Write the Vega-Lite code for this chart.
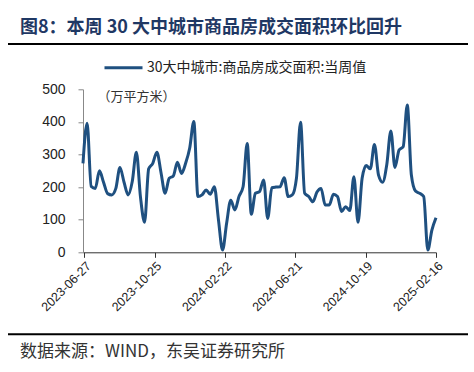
{
  "$schema": "https://vega.github.io/schema/vega-lite/v6.json",
  "padding": {"left": 8, "top": 19, "right": 2, "bottom": 4},
  "bounds": "flush",
  "spacing": 44.3,
  "resolve": {"scale": {"color": "independent"}, "legend": {"color": "independent"}},
  "config": {"view": {"stroke": null}, "font": "Liberation Sans", "axis": {"labelOverlap": false}},
  "vconcat": [
    {
      "width": 460,
      "height": 2,
      "title": {"text": "图8：本周 30 大中城市商品房成交面积环比回升", "anchor": "start", "frame": "group", "dx": 12, "offset": 6, "fontSize": 18, "font": "Noto Sans CJK SC", "fontWeight": "bold", "color": "#1f3864"},
      "data": {"values": [{"x0": 0, "x1": 1, "y0": 0, "y1": 1}]},
      "mark": {"type": "rect", "color": "#000000"},
      "encoding": {
        "x": {"field": "x0", "type": "quantitative", "scale": {"domain": [0, 1], "range": [0, 460]}, "axis": null},
        "x2": {"field": "x1"},
        "y": {"field": "y0", "type": "quantitative", "scale": {"domain": [0, 1], "range": [2, 0]}, "axis": null},
        "y2": {"field": "y1"}
      }
    },
    {
      "width": 460,
      "height": 163,
      "data": {"values": [
        {"date": "2023-06-25", "value": 273},
        {"date": "2023-07-02", "value": 396},
        {"date": "2023-07-09", "value": 202},
        {"date": "2023-07-16", "value": 196},
        {"date": "2023-07-23", "value": 250},
        {"date": "2023-07-30", "value": 215},
        {"date": "2023-08-06", "value": 180},
        {"date": "2023-08-13", "value": 176},
        {"date": "2023-08-20", "value": 196},
        {"date": "2023-08-27", "value": 260},
        {"date": "2023-09-03", "value": 215},
        {"date": "2023-09-10", "value": 176},
        {"date": "2023-09-17", "value": 217},
        {"date": "2023-09-24", "value": 307},
        {"date": "2023-10-01", "value": 170},
        {"date": "2023-10-08", "value": 92},
        {"date": "2023-10-15", "value": 256},
        {"date": "2023-10-22", "value": 273},
        {"date": "2023-10-29", "value": 307},
        {"date": "2023-11-05", "value": 245},
        {"date": "2023-11-12", "value": 181},
        {"date": "2023-11-19", "value": 227},
        {"date": "2023-11-26", "value": 234},
        {"date": "2023-12-03", "value": 276},
        {"date": "2023-12-10", "value": 242},
        {"date": "2023-12-17", "value": 273},
        {"date": "2023-12-24", "value": 320},
        {"date": "2023-12-31", "value": 401},
        {"date": "2024-01-07", "value": 171},
        {"date": "2024-01-14", "value": 176},
        {"date": "2024-01-21", "value": 191},
        {"date": "2024-01-28", "value": 178},
        {"date": "2024-02-04", "value": 201},
        {"date": "2024-02-11", "value": 100},
        {"date": "2024-02-18", "value": 7},
        {"date": "2024-02-25", "value": 90},
        {"date": "2024-03-03", "value": 160},
        {"date": "2024-03-10", "value": 130},
        {"date": "2024-03-17", "value": 171},
        {"date": "2024-03-24", "value": 201},
        {"date": "2024-03-31", "value": 334},
        {"date": "2024-04-07", "value": 117},
        {"date": "2024-04-14", "value": 181},
        {"date": "2024-04-21", "value": 186},
        {"date": "2024-04-28", "value": 222},
        {"date": "2024-05-05", "value": 104},
        {"date": "2024-05-12", "value": 198},
        {"date": "2024-05-19", "value": 200},
        {"date": "2024-05-26", "value": 201},
        {"date": "2024-06-02", "value": 229},
        {"date": "2024-06-09", "value": 171},
        {"date": "2024-06-16", "value": 176},
        {"date": "2024-06-23", "value": 227},
        {"date": "2024-06-30", "value": 399},
        {"date": "2024-07-07", "value": 181},
        {"date": "2024-07-14", "value": 171},
        {"date": "2024-07-21", "value": 155},
        {"date": "2024-07-28", "value": 185},
        {"date": "2024-08-04", "value": 196},
        {"date": "2024-08-11", "value": 145},
        {"date": "2024-08-18", "value": 145},
        {"date": "2024-08-25", "value": 178},
        {"date": "2024-09-01", "value": 171},
        {"date": "2024-09-08", "value": 125},
        {"date": "2024-09-15", "value": 140},
        {"date": "2024-09-22", "value": 128},
        {"date": "2024-09-29", "value": 232},
        {"date": "2024-10-06", "value": 92},
        {"date": "2024-10-13", "value": 227},
        {"date": "2024-10-20", "value": 266},
        {"date": "2024-10-27", "value": 256},
        {"date": "2024-11-03", "value": 331},
        {"date": "2024-11-10", "value": 237},
        {"date": "2024-11-17", "value": 215},
        {"date": "2024-11-24", "value": 268},
        {"date": "2024-12-01", "value": 372},
        {"date": "2024-12-08", "value": 260},
        {"date": "2024-12-15", "value": 314},
        {"date": "2024-12-22", "value": 324},
        {"date": "2024-12-29", "value": 452},
        {"date": "2025-01-05", "value": 237},
        {"date": "2025-01-12", "value": 188},
        {"date": "2025-01-19", "value": 181},
        {"date": "2025-01-26", "value": 171},
        {"date": "2025-02-02", "value": 7},
        {"date": "2025-02-09", "value": 68},
        {"date": "2025-02-16", "value": 106}
      ]},
      "mark": {"type": "line", "interpolate": "monotone", "strokeWidth": 3},
      "encoding": {
        "x": {
          "field": "date", "type": "temporal",
          "scale": {"type": "utc", "range": [75, 428], "domain": [{"year": 2023, "month": 6, "date": 25, "utc": true}, {"year": 2025, "month": 2, "date": 16, "utc": true}]},
          "axis": {
            "title": null, "grid": false,
            "values": [
              {"year": 2023, "month": 6, "date": 27, "utc": true},
              {"year": 2023, "month": 10, "date": 25, "utc": true},
              {"year": 2024, "month": 2, "date": 22, "utc": true},
              {"year": 2024, "month": 6, "date": 21, "utc": true},
              {"year": 2024, "month": 10, "date": 19, "utc": true},
              {"year": 2025, "month": 2, "date": 16, "utc": true}
            ],
            "labelExpr": "utcFormat(datum.value, '%Y-%m-%d')",
            "labelAngle": -45, "labelAlign": "right", "labelBaseline": "top",
            "labelFontSize": 12.5, "labelColor": "#222222", "labelFont": "Liberation Sans",
            "labelOverlap": false, "labelBound": false, "labelFlush": false,
            "domainColor": "#333333", "tickColor": "#333333", "tickSize": 5, "labelPadding": 2
          }
        },
        "y": {
          "field": "value", "type": "quantitative",
          "scale": {"domain": [0, 500], "nice": false},
          "axis": {
            "title": "（万平方米）", "titleAngle": 0, "titleAlign": "left", "titleBaseline": "middle",
            "titleX": 14, "titleY": 7, "titleFont": "Noto Sans CJK SC", "titleFontSize": 13, "titleFontWeight": "normal", "titleColor": "#333333",
            "grid": false, "values": [0, 100, 200, 300, 400, 500], "offset": -75,
            "labelFontSize": 14, "labelPadding": 13, "labelColor": "#222222", "labelFont": "Liberation Sans",
            "labelOverlap": false, "labelFlush": false,
            "tickSize": 5, "domainColor": "#888888", "tickColor": "#888888"
          }
        },
        "color": {
          "datum": "30大中城市:商品房成交面积:当周值",
          "scale": {"range": ["#1f5080"]},
          "legend": {
            "orient": "none", "legendX": 95, "legendY": -42, "title": null,
            "symbolType": "stroke", "symbolSize": 1444, "symbolStrokeWidth": 3, "labelLimit": 400,
            "labelFontSize": 14, "labelFont": "Noto Sans CJK SC", "labelColor": "#222222", "labelOffset": 3
          }
        }
      }
    },
    {
      "width": 460,
      "height": 38.7,
      "title": {"text": "数据来源：WIND，东吴证券研究所", "orient": "bottom", "anchor": "start", "frame": "group", "dx": 12, "offset": 9, "fontSize": 17, "font": "Noto Sans CJK SC", "fontWeight": "normal", "color": "#333333"},
      "data": {"values": [{"x0": 0, "x1": 1, "y0": 0, "y1": 1}]},
      "mark": {"type": "rect", "color": "#000000"},
      "encoding": {
        "x": {"field": "x0", "type": "quantitative", "scale": {"domain": [0, 1], "range": [0, 460]}, "axis": null},
        "x2": {"field": "x1"},
        "y": {"field": "y0", "type": "quantitative", "scale": {"domain": [0, 1], "range": [38.7, 36.7]}, "axis": null},
        "y2": {"field": "y1"}
      }
    }
  ]
}
